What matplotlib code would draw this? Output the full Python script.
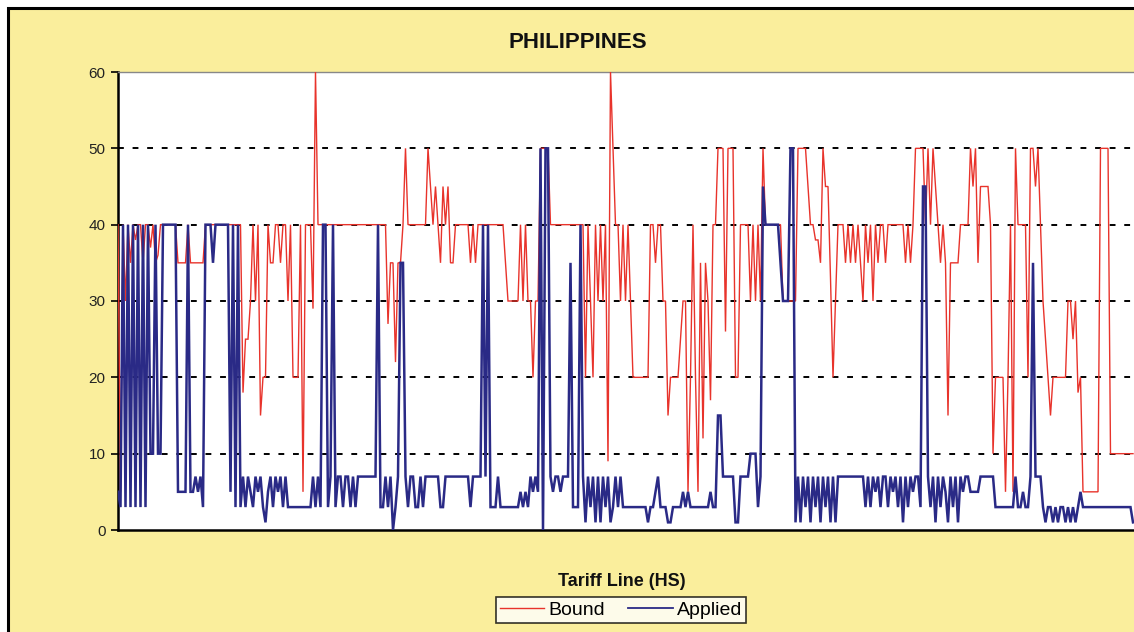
import matplotlib
matplotlib.use("Agg")
import matplotlib.pyplot as plt
from matplotlib.patches import Rectangle
from matplotlib.lines import Line2D

plt.rcParams['font.family'] = ['Liberation Sans', 'DejaVu Sans']

title = "PHILIPPINES"
x_label = "Tariff Line (HS)"
series_names = ["Bound", "Applied"]
y_ticks = [0, 10, 20, 30, 40, 50, 60]
grid_levels = [10, 20, 30, 40, 50]

# Bound tariff rate per tariff line
bound = [
    40, 5, 40, 30, 40, 35, 40, 38, 40, 40, 35, 40, 40, 37, 40, 35, 36, 40, 40, 40,
    40, 40, 40, 40, 35, 35, 35, 35, 40, 35, 35, 35, 35, 35, 35, 40, 40, 40, 40, 40,
    40, 40, 40, 40, 40, 40, 40, 40, 40, 40, 18, 25, 25, 30, 40, 30, 40, 15, 20, 20,
    40, 35, 35, 40, 40, 35, 40, 40, 30, 40, 20, 20, 20, 40, 5, 40, 40, 40, 29, 60,
    40, 40, 40, 40, 40, 40, 40, 40, 40, 40, 40, 40, 40, 40, 40, 40, 40, 40, 40, 40,
    40, 40, 40, 40, 40, 40, 40, 40, 27, 35, 35, 22, 35, 35, 40, 50, 40, 40, 40, 40,
    40, 40, 40, 40, 50, 45, 40, 45, 40, 35, 45, 40, 45, 35, 35, 40, 40, 40, 40, 40,
    40, 35, 40, 35, 40, 40, 40, 40, 40, 40, 40, 40, 40, 40, 40, 35, 30, 30, 30, 30,
    30, 40, 30, 40, 30, 30, 20, 30, 30, 50, 50, 50, 50, 40, 40, 40, 40, 40, 40, 40,
    40, 40, 40, 40, 40, 40, 40, 20, 40, 30, 20, 40, 30, 40, 30, 40, 9, 60, 50, 40,
    40, 30, 40, 30, 40, 30, 20, 20, 20, 20, 20, 20, 20, 40, 40, 35, 40, 40, 30, 30,
    15, 20, 20, 20, 20, 25, 30, 30, 5, 20, 40, 20, 5, 35, 12, 35, 30, 17, 40, 40,
    50, 50, 50, 26, 50, 50, 50, 20, 20, 40, 40, 40, 40, 30, 40, 30, 40, 30, 50, 40,
    40, 40, 40, 40, 40, 40, 30, 30, 30, 30, 30, 30, 50, 50, 50, 50, 45, 40, 40, 38,
    38, 35, 50, 45, 45, 33, 20, 30, 40, 40, 40, 35, 40, 35, 40, 35, 40, 35, 30, 40,
    35, 40, 30, 40, 35, 40, 40, 35, 40, 40, 40, 40, 40, 40, 40, 35, 40, 35, 40, 50,
    50, 50, 50, 40, 50, 40, 50, 45, 40, 35, 40, 35, 15, 35, 35, 35, 35, 40, 40, 40,
    40, 50, 45, 50, 35, 45, 45, 45, 45, 40, 10, 20, 20, 20, 20, 5, 20, 40, 5, 50,
    40, 40, 40, 40, 20, 50, 50, 45, 50, 40, 30, 25, 20, 15, 20, 20, 20, 20, 20, 20,
    30, 30, 25, 30, 18, 20, 5, 5, 5, 5, 5, 5, 5, 50, 50, 50, 50, 10, 10, 10,
    10, 10, 10, 10, 10, 10, 10,
]

# Applied tariff rate per tariff line
applied = [
    5, 3, 40, 3, 40, 3, 40, 3, 40, 3, 40, 3, 40, 10, 10, 40, 10, 10, 40, 40,
    40, 40, 40, 40, 5, 5, 5, 5, 40, 5, 5, 7, 5, 7, 3, 40, 40, 40, 35, 40,
    40, 40, 40, 40, 40, 5, 40, 3, 40, 3, 7, 3, 7, 5, 3, 7, 5, 7, 3, 1,
    5, 7, 3, 7, 5, 7, 3, 7, 3, 3, 3, 3, 3, 3, 3, 3, 3, 3, 7, 3,
    7, 3, 40, 40, 3, 7, 40, 3, 7, 7, 3, 7, 7, 3, 7, 3, 7, 7, 7, 7,
    7, 7, 7, 7, 40, 3, 3, 7, 3, 7, 0, 3, 7, 35, 35, 7, 3, 7, 7, 3,
    3, 7, 3, 7, 7, 7, 7, 7, 7, 3, 3, 7, 7, 7, 7, 7, 7, 7, 7, 7,
    7, 3, 7, 7, 7, 7, 40, 7, 40, 3, 3, 3, 7, 3, 3, 3, 3, 3, 3, 3,
    3, 5, 3, 5, 3, 7, 5, 7, 5, 50, 0, 50, 50, 7, 5, 7, 7, 5, 7, 7,
    7, 35, 3, 3, 3, 40, 7, 1, 7, 3, 7, 1, 7, 1, 7, 3, 7, 1, 3, 7,
    3, 7, 3, 3, 3, 3, 3, 3, 3, 3, 3, 3, 1, 3, 3, 5, 7, 3, 3, 3,
    1, 1, 3, 3, 3, 3, 5, 3, 5, 3, 3, 3, 3, 3, 3, 3, 3, 5, 3, 3,
    15, 15, 7, 7, 7, 7, 7, 1, 1, 7, 7, 7, 7, 10, 10, 10, 3, 7, 45, 40,
    40, 40, 40, 40, 40, 35, 30, 30, 30, 50, 50, 1, 7, 1, 7, 3, 7, 1, 7, 3,
    7, 1, 7, 3, 7, 1, 7, 1, 7, 7, 7, 7, 7, 7, 7, 7, 7, 7, 7, 3,
    7, 3, 7, 5, 7, 3, 7, 7, 3, 7, 5, 7, 3, 7, 1, 7, 3, 7, 5, 7,
    7, 3, 45, 45, 7, 3, 7, 1, 7, 3, 7, 5, 1, 7, 3, 7, 1, 7, 5, 7,
    7, 5, 5, 5, 5, 7, 7, 7, 7, 7, 7, 3, 3, 3, 3, 3, 3, 3, 3, 7,
    3, 3, 5, 3, 3, 7, 35, 7, 7, 7, 3, 1, 3, 3, 1, 3, 1, 3, 3, 1,
    3, 1, 3, 1, 3, 5, 3, 3, 3, 3, 3, 3, 3, 3, 3, 3, 3, 3, 3, 3,
    3, 3, 3, 3, 3, 3, 1,
]

RED = "#E8332B"
BLUE = "#2A2A86"
YELLOW = "#FAEE9C"

W, H = 1134, 632
fig = plt.figure(figsize=(W / 100, H / 100), dpi=100, facecolor="white")

# yellow frame with black border (cropped at right and bottom)
frame = Rectangle((8 / W, -0.05), 1.2, (1 - 8 / H) + 0.05,
                  transform=fig.transFigure, facecolor=YELLOW,
                  edgecolor="black", linewidth=2.2, zorder=-10)
fig.patches.append(frame)

ax = fig.add_axes([118 / W, 1 - 530 / H, 1 - 118 / W, (530 - 72) / H])
ax.set_zorder(5)
ax.set_facecolor("white")

xb = list(range(len(bound)))
xa = list(range(len(applied)))
for lvl in grid_levels:
    ax.axhline(lvl, color="black", linestyle=(0, (3, 4.5)), linewidth=1.4,
               zorder=2)
ax.plot(xb, bound, color=RED, lw=1.0, zorder=3, solid_joinstyle="miter")
ax.plot(xa, applied, color=BLUE, lw=1.8, zorder=4, solid_joinstyle="miter")

ax.set_ylim(0, 60)
ax.set_xlim(0, (W - 118) / 2.5)
ax.set_yticks(y_ticks)
ax.set_xticks([])
ax.tick_params(axis="y", direction="out", length=5, width=1.2, labelsize=11,
               pad=4, colors="black")
for t in ax.get_yticklabels():
    t.set_color("#222222")

ax.spines["left"].set_linewidth(1.8)
ax.spines["bottom"].set_linewidth(1.8)
ax.spines["top"].set_color("#888888")
ax.spines["top"].set_linewidth(1.0)
ax.spines["right"].set_visible(False)

fig.text(578 / W, 1 - 42 / H, title, ha="center", va="center",
         fontsize=16, fontweight="bold", color="#111111", zorder=6)
fig.text(622 / W, 1 - 581 / H, x_label, ha="center", va="center",
         fontsize=13, fontweight="bold", color="#111111", zorder=6)

handles = [Line2D([], [], color=RED, lw=1.0), Line2D([], [], color=BLUE, lw=1.3)]
leg = fig.legend(handles, series_names, loc="center",
                 bbox_to_anchor=(621 / W, 1 - 610 / H), ncol=2, fontsize=14,
                 frameon=True, fancybox=False, borderpad=0.2,
                 handlelength=2.3, handletextpad=0.2, columnspacing=1.2,
                 borderaxespad=0)
leg.set_zorder(6)
leg.get_frame().set_edgecolor("black")
leg.get_frame().set_linewidth(1.2)
leg.get_frame().set_facecolor("white")

fig.savefig("out.png", dpi=100, facecolor=fig.get_facecolor())
